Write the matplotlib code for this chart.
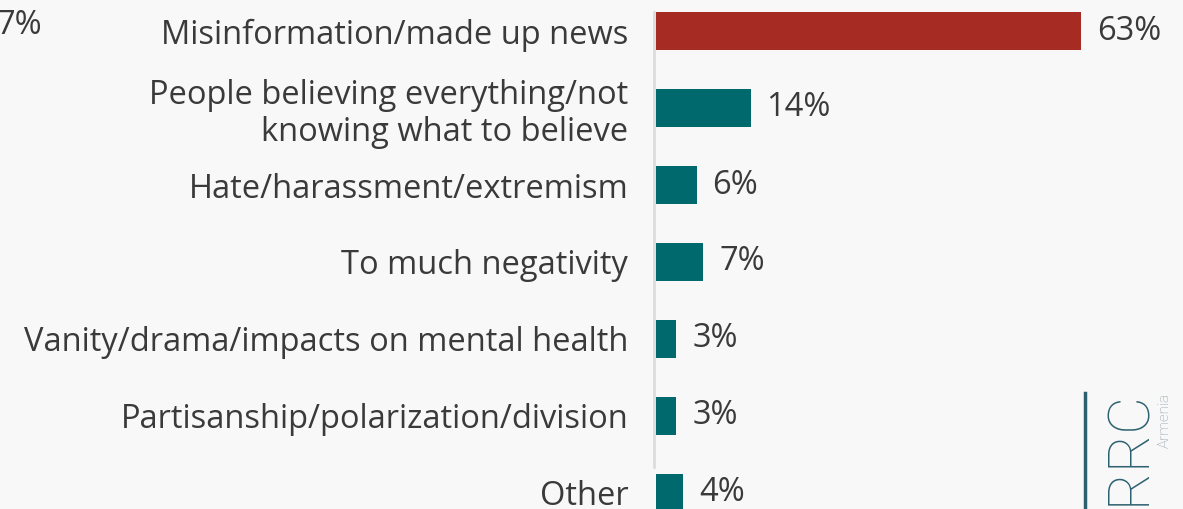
import matplotlib.pyplot as plt

categories = [
    "Misinformation/made up news",
    "People believing everything/not\nknowing what to believe",
    "Hate/harassment/extremism",
    "To much negativity",
    "Vanity/drama/impacts on mental health",
    "Partisanship/polarization/division",
    "Other",
]
values = [63, 14, 6, 7, 3, 3, 4]
highlight = 0

RED = "#a62b22"
TEAL = "#00696d"
TXT = "#3a3a3a"
BG = "#f8f8f8"
FS = 23.5

plt.rcParams["font.family"] = ["Open Sans", "DejaVu Sans"]

W, H = 1183, 509
fig = plt.figure(figsize=(W / 100, H / 100), dpi=100, facecolor=BG)

px_per_pct = 6.75
ax_left, ax_w = 656, 524
ax = fig.add_axes([ax_left / W, 0, ax_w / W, 1])
ax.set_facecolor(BG)

colors = [RED if i == highlight else TEAL for i in range(len(values))]
ypos = list(range(len(values)))
ax.barh(ypos, values, height=0.5, color=colors)

ax.set_xlim(0, ax_w / px_per_pct)
step = 77
ax.set_ylim((H - 31) / step, -31 / step)

ax.set_yticks(ypos)
ax.set_yticklabels(categories, fontsize=FS, color=TXT, linespacing=1.15)
ax.tick_params(axis="y", length=0, pad=20)
ax.set_xticks([])
for s in ax.spines.values():
    s.set_visible(False)

# light axis line
ax.axvline(-0.3, ymin=1 - 467 / H, ymax=1 - 12 / H, color="#dcdcdc", lw=2, clip_on=False)

for y, v in zip(ypos, values):
    ax.text(v + 16 / px_per_pct, y, f"{v}%", va="center", ha="left",
            fontsize=FS, color=TXT)

# stray label from neighbouring chart
fig.text(42 / W, 1 - 25 / H, "7%", ha="right", va="center", fontsize=FS, color=TXT)

# logo
fig.add_artist(plt.Line2D([1085 / W, 1085 / W], [0, 1 - 393 / H],
                          color="#2c6070", lw=2.5))
fig.text(1131 / W, 1 - 391 / H, "CRRC", rotation=90, ha="center", va="top",
         fontsize=42, color="#2c6070", fontfamily=["Roboto", "DejaVu Sans"],
         fontweight="light")
fig.text(1165 / W, 1 - 393 / H, "Armenia", rotation=90, ha="center", va="top",
         fontsize=11, color="#8a9ba5", fontfamily=["Roboto", "DejaVu Sans"],
         fontweight="light")

fig.savefig("out.png", dpi=100, facecolor=BG)
